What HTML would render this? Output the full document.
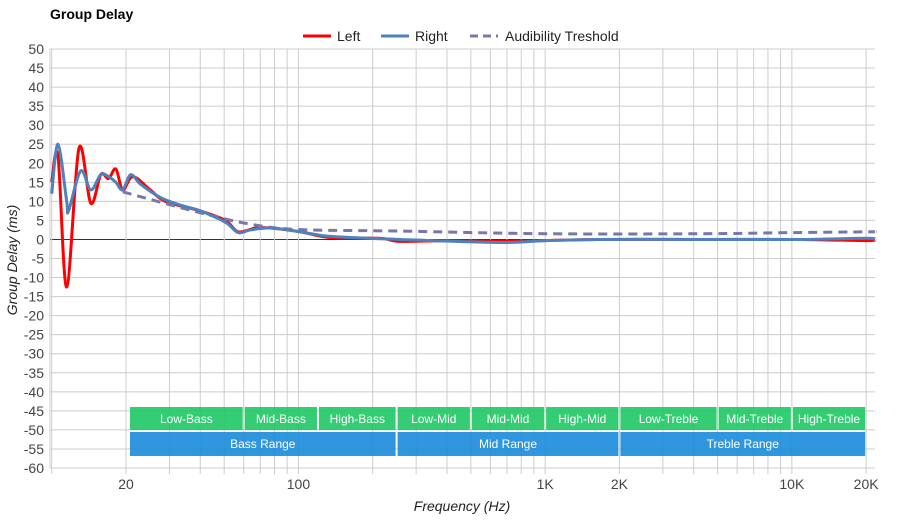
<!DOCTYPE html>
<html><head><meta charset="utf-8"><style>
body{margin:0;background:#fff;font-family:"Liberation Sans",Arial,sans-serif}
svg text{font-family:"Liberation Sans",Arial,sans-serif}
</style></head><body>
<svg id="c" width="900" height="520">
<text x="50" y="19" font-size="14" font-weight="bold" fill="#000">Group Delay</text>
<g>
<line x1="303" y1="36" x2="331" y2="36" stroke="#f00" stroke-width="3"/>
<text x="337" y="41" font-size="14" fill="#222">Left</text>
<line x1="381" y1="36" x2="409" y2="36" stroke="#4f81bd" stroke-width="3"/>
<text x="415" y="41" font-size="14" fill="#222">Right</text>
<line x1="470" y1="36" x2="498" y2="36" stroke="#7777aa" stroke-width="3" stroke-dasharray="8,5"/>
<text x="505" y="41" font-size="14" fill="#222">Audibility Treshold</text>
</g>
<g id="grid"></g><g id="bands"></g><g id="series"></g><g id="axes"></g>
<text transform="translate(17,260) rotate(-90)" text-anchor="middle" font-size="14" font-style="italic" fill="#222">Group Delay (ms)</text>
<text x="462" y="511" text-anchor="middle" font-size="14" font-style="italic" fill="#222">Frequency (Hz)</text>
</svg>
<script>
const yTicks=[50,45,40,35,30,25,20,15,10,5,0,-5,-10,-15,-20,-25,-30,-35,-40,-45,-50,-55,-60];
const xTickVals=[20,100,1000,2000,10000,20000];
const xTickLabels=["20","100","1K","2K","10K","20K"];
const leftF=[10,10.6,11.5,12.9,14.4,15.8,17.0,18.2,19.4,21.3,25.1,28.9,40,50.6,57,67,77,102,135,215,258,412,657,1000,1670,4220,10700,20000,21700];
const leftV=[15,22,-12.5,24,9.5,17,16,18.5,13,16.5,13,10,7.5,5,2,3,3,2,0.5,0.3,-0.5,-0.3,-0.5,-0.3,0,0,0,-0.3,0];
const rightF=[10,10.6,11.5,11.7,13.1,14.4,15.8,17.0,18.2,19.4,20.9,22.9,27.6,33.3,40,50.6,57,63.9,77,102,135,258,657,1000,1670,4220,10700,20000,21700];
const rightV=[12,25,10,7.5,18,13,17,16.5,15,13,17,14.5,11,9,7.5,4.5,1.8,2.5,3,2,0.8,0,-0.8,-0.3,0,0,0,0.3,0];
const thrF=[19.4,40,64,100,258,1000,4220,10000,20000,21700];
const thrV=[12.5,7,4,2.6,2.2,1.5,1.5,1.8,2,2];
const bandNames=["Low-Bass","Mid-Bass","High-Bass","Low-Mid","Mid-Mid","High-Mid","Low-Treble","Mid-Treble","High-Treble"];
const bandEdges=[20,60,120,250,500,1000,2000,5000,10000,20000];
const rangeNames=["Bass Range","Mid Range","Treble Range"];
const rangeEdges=[20,250,2000,20000];
const X0=50,X1=875,Y0=49,Y1=468;
const lmin=0.993,lmax=4.337;
const x=f=>X0+(Math.log10(f)-lmin)/(lmax-lmin)*(X1-X0);
const y=v=>Y0+(50-v)/110*(Y1-Y0);
const NS="http://www.w3.org/2000/svg";
function mk(p,t,a){const e=document.createElementNS(NS,t);for(const k in a)e.setAttribute(k,a[k]);p.appendChild(e);return e;}
const grid=document.getElementById('grid'),axes=document.getElementById('axes'),bands=document.getElementById('bands'),series=document.getElementById('series');
yTicks.forEach(v=>{const l=mk(grid,'line',{x1:X0,x2:X1,y1:y(v),y2:y(v),stroke:v===0?'#333':'#ccc','stroke-width':1});


const t=mk(axes,'text',{x:44,y:y(v)+5,'text-anchor':'end','font-size':14,fill:'#444'});t.textContent=v;

});
for(let d=10;d<=10000;d*=10)for(let m=1;m<=9;m++){const f=d*m;if(f>21700||x(f)<X0)continue;
const l=mk(grid,'line',{x1:x(f),x2:x(f),y1:Y0,y2:Y1+6,stroke:'#ccc','stroke-width':1});

}
mk(grid,'line',{x1:X0,x2:X0,y1:Y0,y2:Y1,stroke:'#ccc'});
mk(grid,'line',{x1:X0,x2:X1,y1:Y1,y2:Y1,stroke:'#ccc'});
xTickVals.forEach((f,i)=>{const t=mk(axes,'text',{x:x(f),y:489,'text-anchor':'middle','font-size':14,fill:'#444'});t.textContent=xTickLabels[i];

});
bandNames.forEach((n,i)=>{const a=x(bandEdges[i])+(i==0?4:1),b=x(bandEdges[i+1])-1;
const r=mk(bands,'rect',{x:a,y:407,width:b-a,height:23,fill:'rgba(30,200,100,0.9)'});


const t=mk(bands,'text',{x:(a+b)/2,y:423,'text-anchor':'middle','font-size':12,fill:'#fff'});t.textContent=n;});
rangeNames.forEach((n,i)=>{const a=x(rangeEdges[i])+(i==0?4:1),b=x(rangeEdges[i+1])-1;
const r=mk(bands,'rect',{x:a,y:432,width:b-a,height:24,fill:'rgba(25,140,220,0.9)'});


const t=mk(bands,'text',{x:(a+b)/2,y:448,'text-anchor':'middle','font-size':12,fill:'#fff'});t.textContent=n;});
function path(F,V){const p=F.map((f,i)=>[x(f),y(V[i])]);let d='M'+p[0];
for(let i=0;i<p.length-1;i++){const p0=p[Math.max(0,i-1)],p1=p[i],p2=p[i+1],p3=p[Math.min(p.length-1,i+2)];
const c1=[p1[0]+(p2[0]-p0[0])/6,p1[1]+(p2[1]-p0[1])/6],c2=[p2[0]-(p3[0]-p1[0])/6,p2[1]-(p3[1]-p1[1])/6];
d+='C'+c1+' '+c2+' '+p2;}return d;}
const pl=mk(series,'path',{d:path(leftF,leftV),fill:'none',stroke:'#f00','stroke-width':3});


const pt=mk(series,'path',{d:path(thrF,thrV),fill:'none',stroke:'#7777aa','stroke-width':3,'stroke-dasharray':'9,6'});


const pr=mk(series,'path',{d:path(rightF,rightV),fill:'none',stroke:'#4f81bd','stroke-width':3});


</script>
</body></html>
